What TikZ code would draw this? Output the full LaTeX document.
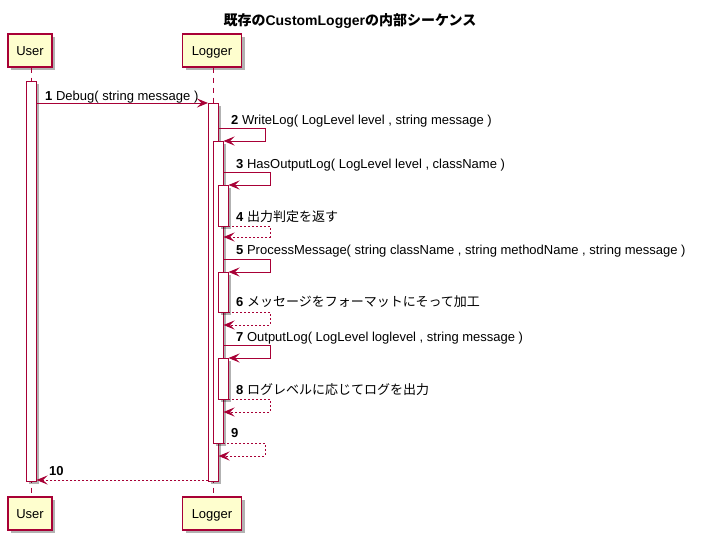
\documentclass[tikz,border=0pt]{standalone}
\usepackage{fontspec}
\setmainfont{Liberation Sans}
\newfontfamily\jp{Noto Sans CJK JP}
\usetikzlibrary{arrows.meta,shadows}
\definecolor{pred}{HTML}{A80036}
\definecolor{pfill}{HTML}{FEFECE}
\tikzset{
  shad/.style={drop shadow={shadow xshift=3pt,shadow yshift=-3pt,fill=black,opacity=0.3}},
  part/.style={draw=pred,line width=1.5pt,fill=pfill,shad,minimum height=33pt,inner sep=0pt,
    text height=10.4pt,text depth=0pt,font=\fontsize{13}{15}\selectfont},
  lifeline/.style={draw=pred,line width=1pt,dash pattern=on 5pt off 5pt},
  act/.style={draw=pred,line width=1pt,fill=white,shad},
  msg/.style={draw=pred,line width=1pt,-{Stealth[length=11pt,width=9pt,inset=4.5pt]}},
  ret/.style={msg,dash pattern=on 2pt off 2pt},
  lbl/.style={anchor=base west,inner sep=0pt,font=\fontsize{13}{15}\selectfont}
}
\begin{document}
\begin{tikzpicture}[x=1pt,y=-1pt]
\useasboundingbox (0,0) rectangle (701,539);
\fill[white] (0,0) rectangle (701,539);
% title
\node[anchor=base,inner sep=0pt,font=\bfseries\fontsize{14}{16}\selectfont] (title) at (350,25)
  {{\jp\bfseries 既存の}CustomLogger{\jp\bfseries の内部シーケンス}};
% participants
\node[part,minimum width=44pt] (userT) at (30,50.5) {User};
\node[part,minimum width=59pt] (logT) at (212,50.5) {Logger};
\node[part,minimum width=44pt] (userB) at (30,513.5) {User};
\node[part,minimum width=59pt] (logB) at (212,513.5) {Logger};
% lifelines
\coordinate (uTop) at (31,67.5); \coordinate (uBot) at (31,496.5);
\coordinate (lTop) at (213,67.5); \coordinate (lBot) at (213,496.5);
\draw[lifeline] (uTop) -- (uBot);
\draw[lifeline] (lTop) -- (lBot);
% activations
\draw[act] (26,81) rectangle (36,481);
\draw[act] (208,103) rectangle (218,481);
\draw[act] (213,141) rectangle (223,443);
\draw[act] (218,185) rectangle (228,226);
\draw[act] (218,272) rectangle (228,312);
\draw[act] (218,358) rectangle (228,399);
% message 1
\coordinate (m1a) at (36,103); \coordinate (m1b) at (208,103);
\draw[msg] (m1a) -- (m1b);
\node[lbl] (t1) at (45,100) {\textbf{1} Debug( string message )};
% message 2
\coordinate (m2a) at (218,128); \coordinate (m2b) at (223.5,141);
\draw[msg] (m2a) -- (265,128) -- (265,141) -- (m2b);
\node[lbl] (t2) at (231,124.5) {\textbf{2} WriteLog( LogLevel level , string message )};
% message 3
\coordinate (m3a) at (223,172); \coordinate (m3b) at (228.5,185);
\draw[msg] (m3a) -- (270,172) -- (270,185) -- (m3b);
\node[lbl] (t3) at (236,168) {\textbf{3} HasOutputLog( LogLevel level , className )};
% message 4
\coordinate (m4a) at (228,226); \coordinate (m4b) at (223.5,237);
\draw[ret] (m4a) -- (270,226) -- (270,237) -- (m4b);
\node[lbl] (t4) at (236,221) {\textbf{4} {\jp 出力判定を返す}};
% message 5
\coordinate (m5a) at (223,259); \coordinate (m5b) at (228.5,272);
\draw[msg] (m5a) -- (270,259) -- (270,272) -- (m5b);
\node[lbl] (t5) at (236,254.5) {\textbf{5} ProcessMessage( string className , string methodName , string message )};
% message 6
\coordinate (m6a) at (228,312); \coordinate (m6b) at (223.5,325);
\draw[ret] (m6a) -- (270,312) -- (270,325) -- (m6b);
\node[lbl] (t6) at (236,306.5) {\textbf{6} {\jp メッセージをフォーマットにそって加工}};
% message 7
\coordinate (m7a) at (223,345); \coordinate (m7b) at (228.5,358);
\draw[msg] (m7a) -- (270,345) -- (270,358) -- (m7b);
\node[lbl] (t7) at (236,341) {\textbf{7} OutputLog( LogLevel loglevel , string message )};
% message 8
\coordinate (m8a) at (228,399); \coordinate (m8b) at (223.5,412);
\draw[ret] (m8a) -- (270,399) -- (270,412) -- (m8b);
\node[lbl] (t8) at (236,394) {\textbf{8} {\jp ログレベルに応じてログを出力}};
% message 9
\coordinate (m9a) at (223,443); \coordinate (m9b) at (218.5,456);
\draw[ret] (m9a) -- (265,443) -- (265,456) -- (m9b);
\node[lbl] (t9) at (231,437.5) {\textbf{9}};
% message 10
\coordinate (m10a) at (208,480); \coordinate (m10b) at (36.5,480);
\draw[ret] (m10a) -- (m10b);
\node[lbl] (t10) at (49,475.5) {\textbf{10}};
\end{tikzpicture}
\end{document}
